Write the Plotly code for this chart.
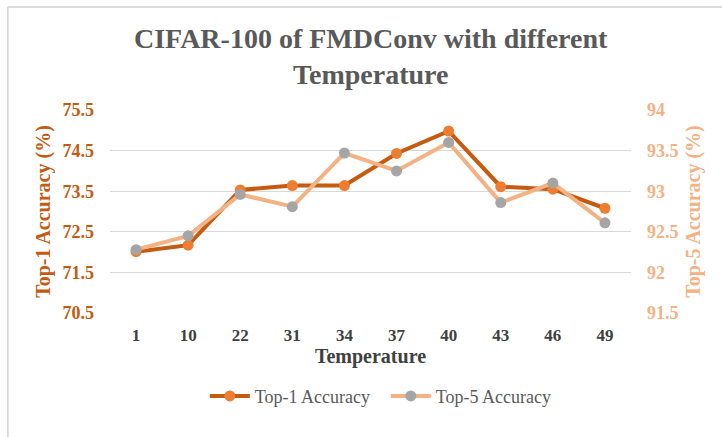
import plotly.graph_objects as go

temperature = ["1", "10", "22", "31", "34", "37", "40", "43", "46", "49"]
top1 = [72.01, 72.17, 73.53, 73.64, 73.64, 74.43, 74.98, 73.61, 73.55, 73.08]
top5 = [92.28, 92.45, 92.96, 92.81, 93.47, 93.25, 93.60, 92.86, 93.10, 92.61]

FONT = "Liberation Serif"

fig = go.Figure()
fig.add_trace(go.Scatter(
    x=temperature, y=top1, name="Top-1 Accuracy", mode="lines+markers",
    line=dict(color="#C55A11", width=4),
    marker=dict(color="#ED7D31", size=11),
    yaxis="y"))
fig.add_trace(go.Scatter(
    x=temperature, y=top5, name="Top-5 Accuracy", mode="lines+markers",
    line=dict(color="#F4B183", width=4),
    marker=dict(color="#A5A5A5", size=11),
    yaxis="y2"))

fig.update_layout(
    width=722, height=437,
    margin=dict(l=110, r=91, t=110, b=124, autoexpand=False),
    paper_bgcolor="white", plot_bgcolor="white",
    font=dict(family=FONT, color="#404040"),
    showlegend=True,
    legend=dict(orientation="h", x=0.182, xanchor="left", y=-0.41, yanchor="middle",
                font=dict(family=FONT, size=18, color="#595959"),
                itemwidth=40, entrywidth=126, entrywidthmode="pixels",
                traceorder="normal"),
    xaxis=dict(type="category", range=[-0.5, len(temperature) - 0.5],
               showgrid=False, showline=False, zeroline=False,
               automargin=False, ticks="", ticklabelstandoff=10,
               tickfont=dict(family=FONT, size=17, color="#404040", weight="bold"),
               title=dict(text="<b>Temperature</b>", standoff=4,
                          font=dict(family=FONT, size=20, color="#404040"))),
    yaxis=dict(range=[70.5, 75.5], tick0=70.5, dtick=1, showgrid=True,
               gridcolor="#D9D9D9", gridwidth=1.3, zeroline=False, showline=False,
               automargin=False, ticks="", ticklabelstandoff=15,
               tickfont=dict(family=FONT, size=18, color="#C55A11", weight="bold"),
               title=dict(text="<b>Top-1 Accuracy (%)</b>", standoff=6,
                          font=dict(family=FONT, size=20, color="#C55A11"))),
    yaxis2=dict(range=[91.5, 94], tick0=91.5, dtick=0.5, overlaying="y", side="right",
                showgrid=False, zeroline=False, showline=False, ticks="",
                automargin=False, ticklabelstandoff=15,
                tickfont=dict(family=FONT, size=18, color="#F4B183", weight="bold"),
                title=dict(text="<b>Top-5 Accuracy (%)</b>", standoff=8,
                           font=dict(family=FONT, size=20, color="#F4B183"))),
    annotations=[dict(
        text="<b>CIFAR-100 of FMDConv with different<br>Temperature</b>",
        xref="paper", yref="paper", x=0.5, y=1, xanchor="center", yanchor="bottom",
        yshift=18, showarrow=False, align="center",
        font=dict(family=FONT, size=28, color="#595959"))],
    shapes=[
        dict(type="line", xref="paper", yref="paper",
             x0=-0.196, x1=1.2, y0=1.507, y1=1.507,
             line=dict(color="#D0D0D0", width=1.5)),
        dict(type="line", xref="paper", yref="paper",
             x0=-0.196, x1=-0.196, y0=-0.7, y1=1.507,
             line=dict(color="#D0D0D0", width=1.5)),
    ],
)

fig.write_html("out.html", config={"displayModeBar": False},
               post_script="document.body.style.margin='0';document.body.style.overflow='hidden';")
